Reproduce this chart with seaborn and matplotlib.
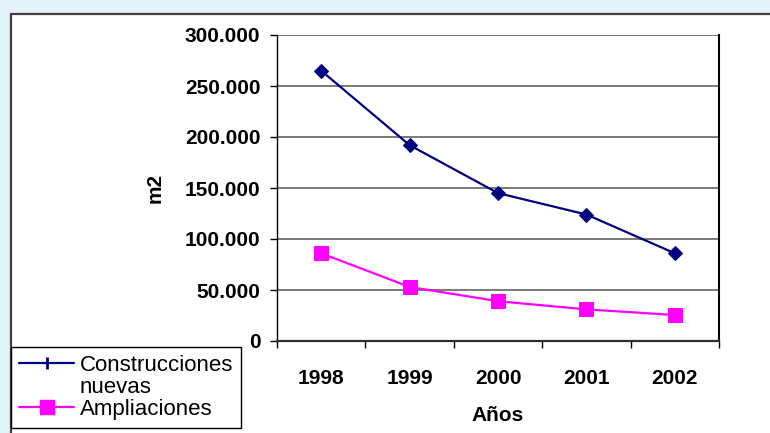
import numpy as np
import pandas as pd
import seaborn as sns
import matplotlib.pyplot as plt
from matplotlib.patches import Rectangle
from matplotlib.lines import Line2D
from matplotlib.ticker import FuncFormatter

# data
years = ["1998", "1999", "2000", "2001", "2002"]
construcciones = [265000, 192000, 145000, 124000, 86000]
ampliaciones = [86000, 53000, 39000, 31000, 25500]
y_ticks = [0, 50000, 100000, 150000, 200000, 250000, 300000]

df = pd.DataFrame({"Años": years,
                   "Construcciones nuevas": construcciones,
                   "Ampliaciones": ampliaciones})

sns.set_style("white")
plt.rcParams['font.family'] = ['Liberation Sans', 'DejaVu Sans']
plt.rcParams['text.color'] = 'black'
plt.rcParams['axes.labelcolor'] = 'black'
plt.rcParams['xtick.color'] = 'black'
plt.rcParams['ytick.color'] = 'black'

W, H = 770, 433
fig = plt.figure(figsize=(7.7, 4.33), dpi=100, facecolor='#E4F3FA')

# white chart area with dark border on top/left
fig.patches.append(Rectangle((11 / W, -0.1), 1.2, 1.1 - 14 / H, transform=fig.transFigure,
                             facecolor='white', edgecolor='#404040', lw=1.6, zorder=-5))

ax = fig.add_axes([277 / W, 1 - 341 / H, (719 - 277) / W, (341 - 35) / H])
ax.set_facecolor('white')

sns.lineplot(data=df, x="Años", y="Construcciones nuevas", ax=ax, sort=False,
             color='#000080', lw=1.6, marker='D', markersize=7.5, markeredgecolor='#000080',
             zorder=3)
sns.lineplot(data=df, x="Años", y="Ampliaciones", ax=ax, sort=False,
             color='#FF00FF', lw=1.6, marker='s', markersize=10, markeredgecolor='#FF00FF',
             zorder=3)

ax.set_xlim(-0.5, len(years) - 0.5)
ax.set_ylim(0, 300000)

# y axis
ax.set_yticks(y_ticks)
ax.yaxis.set_major_formatter(FuncFormatter(lambda v, p: f"{int(v):,}".replace(",", ".")))
ax.grid(axis='y', color='#6E6E6E', lw=1.3)
ax.tick_params(axis='y', direction='out', length=5, width=1, color='black', pad=7,
               labelsize=15, left=True)
for t in ax.get_yticklabels():
    t.set_fontweight('bold')

# x axis: ticks at category boundaries, labels at centres
ax.set_xticks(np.arange(-0.5, len(years), 1.0))
ax.set_xticklabels([])
ax.set_xticks(range(len(years)), minor=True)
ax.set_xticklabels(years, minor=True, fontsize=15, fontweight='bold')
ax.tick_params(axis='x', which='major', direction='out', length=5, width=1, color='black', bottom=True)
ax.tick_params(axis='x', which='minor', length=0, pad=20)

ax.set_xlabel("Años", fontsize=15, fontweight='bold', labelpad=13)
ax.set_ylabel("m2", fontsize=15, fontweight='bold')
ax.yaxis.set_label_coords(-0.255, 0.5)

for side in ['left', 'right', 'bottom']:
    ax.spines[side].set_visible(True)
    ax.spines[side].set_color('black')
ax.spines['left'].set_linewidth(1)
ax.spines['right'].set_linewidth(1.5)
ax.spines['bottom'].set_linewidth(1.6)
ax.spines['bottom'].set_color('#303030')
ax.spines['top'].set_visible(False)

# legend
h1 = Line2D([], [], color='#000080', lw=1.6, marker='|', markersize=9, markeredgewidth=2)
hb = Line2D([], [], color='none')
h2 = Line2D([], [], color='#FF00FF', lw=1.6, marker='s', markersize=10)
leg = fig.legend([h1, hb, h2], ["Construcciones", "nuevas", "Ampliaciones"],
                 loc='upper left', bbox_to_anchor=(11 / W, 1 - 347 / H),
                 bbox_transform=fig.transFigure, fontsize=16, frameon=True,
                 fancybox=False, edgecolor='black', framealpha=1,
                 handlelength=2.5, handletextpad=0.25, labelspacing=0.05,
                 borderpad=0.35, borderaxespad=0)
leg.get_frame().set_linewidth(1)

fig.savefig("out.png", dpi=100, facecolor=fig.get_facecolor())
